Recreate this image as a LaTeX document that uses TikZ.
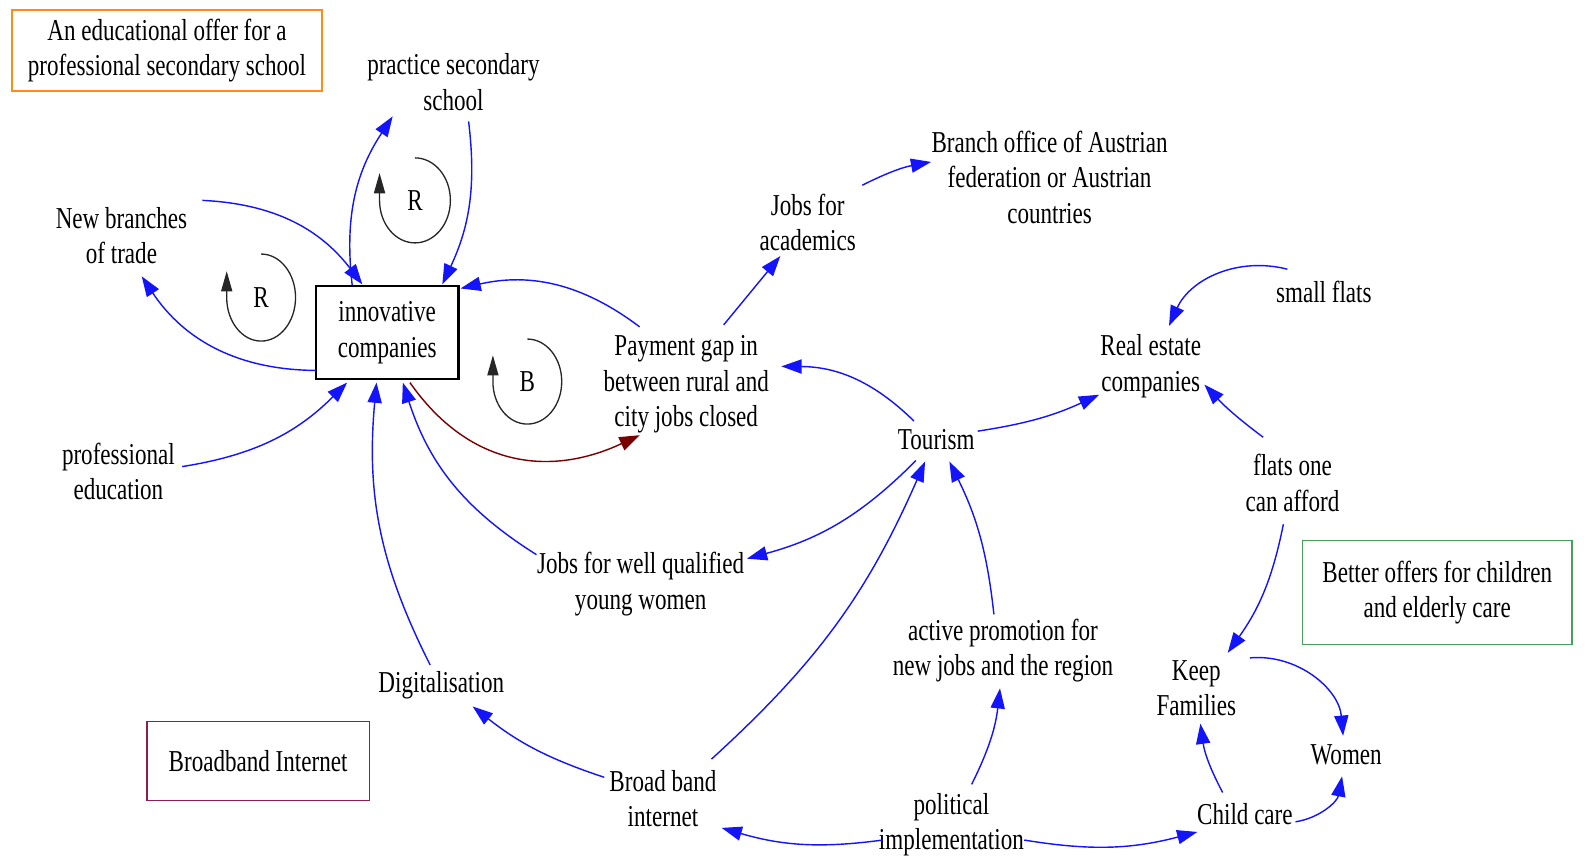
\documentclass[tikz,border=0pt]{standalone}
\usepackage{fontspec}
\setmainfont{Liberation Serif}[FakeStretch=0.76]
\usetikzlibrary{arrows.meta}
\definecolor{arrowblue}{RGB}{20,20,250}
\definecolor{darkredline}{RGB}{120,0,0}
\definecolor{orangebox}{RGB}{255,140,20}
\definecolor{greenbox}{RGB}{70,160,90}
\definecolor{maroonbox}{RGB}{140,30,80}
\tikzset{
  lbl/.style={align=center, font=\fontsize{30}{35}\selectfont, inner sep=0pt},
  framed/.style={lbl, draw, line width=1.5pt},
  link/.style={draw=arrowblue, line width=1.4pt, -{Triangle[length=20pt,width=14pt]}, fill=none},
  redlink/.style={draw=darkredline, line width=1.4pt, -{Triangle[length=20pt,width=14pt]}},
  loopline/.style={draw=black!85, line width=1.3pt, -{Triangle[length=20pt,width=11pt]}}
}
\begin{document}
\begin{tikzpicture}[x=1pt,y=1pt]
\useasboundingbox (0,0) rectangle (1568,848);
% boxes
\node[framed, draw=orangebox, minimum width=306pt, minimum height=80pt] (edu) at (165,798) {An educational offer for a\\professional secondary school};
\node[framed, draw=greenbox, minimum width=266pt, minimum height=103pt] (better) at (1420,262.5) {Better offers for children\\and elderly care};
\node[framed, draw=maroonbox, minimum width=220pt, minimum height=78pt] (bbbox) at (255,96) {Broadband Internet};
\node[framed, draw=black, line width=2pt, minimum width=141pt, minimum height=91pt] (inno) at (382.5,519.5) {\rule{0pt}{12pt}innovative\\companies};
% labels
\node[lbl] (practice) at (448,767) {practice secondary\\school};
\node[lbl] (newbr) at (120,615) {New branches\\of trade};
\node[lbl] (pay) at (678,468) {Payment gap in\\between rural and\\city jobs closed};
\node[lbl] (acad) at (798,628) {Jobs for\\academics};
\node[lbl] (branch) at (1037,673) {Branch office of Austrian\\federation or Austrian\\countries};
\node[lbl] (small) at (1308,560) {small flats};
\node[lbl] (real) at (1137,486) {Real estate\\companies};
\node[lbl] (tour) at (925,414) {Tourism};
\node[lbl] (afford) at (1277,371) {flats one\\can afford};
\node[lbl] (profed) at (117,382) {professional\\education};
\node[lbl] (jobsw) at (633,271) {Jobs for well qualified\\young women};
\node[lbl] (active) at (991,205) {active promotion for\\new jobs and the region};
\node[lbl] (keep) at (1182,168) {Keep\\Families};
\node[lbl] (women) at (1330,102) {Women};
\node[lbl] (digit) at (436,171) {Digitalisation};
\node[lbl] (bband) at (655,59) {Broad band\\internet};
\node[lbl] (polit) at (940,33) {political\\implementation};
\node[lbl] (child) at (1230,44) {Child care};
% loop markers
\node[lbl] (r1) at (410,650) {R};
\node[lbl] (r2) at (258,554) {R};
\node[lbl] (bl) at (521,471) {B};
\draw[loopline] ([shift={(0,42)}]r1.center) arc[start angle=90, end angle=-180, x radius=35pt, y radius=42pt] -- ++(0,27);
\draw[loopline] ([shift={(0,43)}]r2.center) arc[start angle=90, end angle=-180, x radius=34pt, y radius=43pt] -- ++(0,26);
\draw[loopline] ([shift={(0,42)}]bl.center) arc[start angle=90, end angle=-180, x radius=34pt, y radius=42pt] -- ++(0,26);
% connectors
\draw[link] ([shift={(-34.5,46.5)}]inno.center) to[bend left=20] ([shift={(-60,-34)}]practice.center);
\draw[link] ([shift={(15,-39)}]practice.center) to[bend left=16] ([shift={(54.5,47.5)}]inno.center);
\draw[link] ([shift={(80,35)}]newbr.center) to[bend left=25] ([shift={(-24.5,47.5)}]inno.center);
\draw[link] ([shift={(-70.5,-37.5)}]inno.center) to[bend left=28] ([shift={(20,-40)}]newbr.center);
\draw[link] ([shift={(-46,57)}]pay.center) to[bend right=25] ([shift={(72.5,43.5)}]inno.center);
\draw[redlink] ([shift={(22.5,-49.5)}]inno.center) to[out=-55,in=205,looseness=1.1] ([shift={(-46,-50)}]pay.center);
\draw[link] ([shift={(63,5)}]profed.center) to[bend right=18] ([shift={(-39.5,-49.5)}]inno.center);
\draw[link] ([shift={(-11,20)}]digit.center) to[bend left=16] ([shift={(-10.5,-49.5)}]inno.center);
\draw[link] ([shift={(-103,29)}]jobsw.center) to[bend left=20] ([shift={(15.5,-49.5)}]inno.center);
\draw[link] ([shift={(37,59)}]pay.center) -- ([shift={(-27,-33)}]acad.center);
\draw[link] ([shift={(54,37)}]acad.center) to[bend left=8] ([shift={(-117,15)}]branch.center);
\draw[link] ([shift={(-22,18)}]tour.center) to[bend right=22] ([shift={(94,18)}]pay.center);
\draw[link] ([shift={(41,8)}]tour.center) to[bend right=8] ([shift={(-51,-28)}]real.center);
\draw[link] ([shift={(-36,22)}]small.center) to[bend right=40] ([shift={(18,40)}]real.center);
\draw[link] ([shift={(-29,45)}]afford.center) to[bend left=5] ([shift={(53,-18)}]real.center);
\draw[link] ([shift={(-9,-41)}]afford.center) to[bend left=12] ([shift={(31,35)}]keep.center);
\draw[link] ([shift={(-20,-21)}]tour.center) to[bend left=15] ([shift={(105,25)}]jobsw.center);
\draw[link] ([shift={(48,39)}]bband.center) to[bend right=12] ([shift={(-11,-22)}]tour.center);
\draw[link] ([shift={(-9,36)}]active.center) to[bend right=10] ([shift={(13,-22)}]tour.center);
\draw[link] ([shift={(-58,21)}]bband.center) to[bend left=10] ([shift={(31,-21)}]digit.center);
\draw[link] ([shift={(-68,-15)}]polit.center) to[bend left=12] ([shift={(58,-29)}]bband.center);
\draw[link] ([shift={(20,40)}]polit.center) to[bend right=10] ([shift={(-3,-37)}]active.center);
\draw[link] ([shift={(72,-15)}]polit.center) to[bend right=12] ([shift={(-47,-18)}]child.center);
\draw[link] ([shift={(-22,21)}]child.center) to[bend left=10] ([shift={(4,-35)}]keep.center);
\draw[link] ([shift={(53,30)}]keep.center) to[bend left=45] ([shift={(-3,19)}]women.center);
\draw[link] ([shift={(50,-8)}]child.center) to[bend right=35] ([shift={(-4,-21)}]women.center);
\end{tikzpicture}
\end{document}
